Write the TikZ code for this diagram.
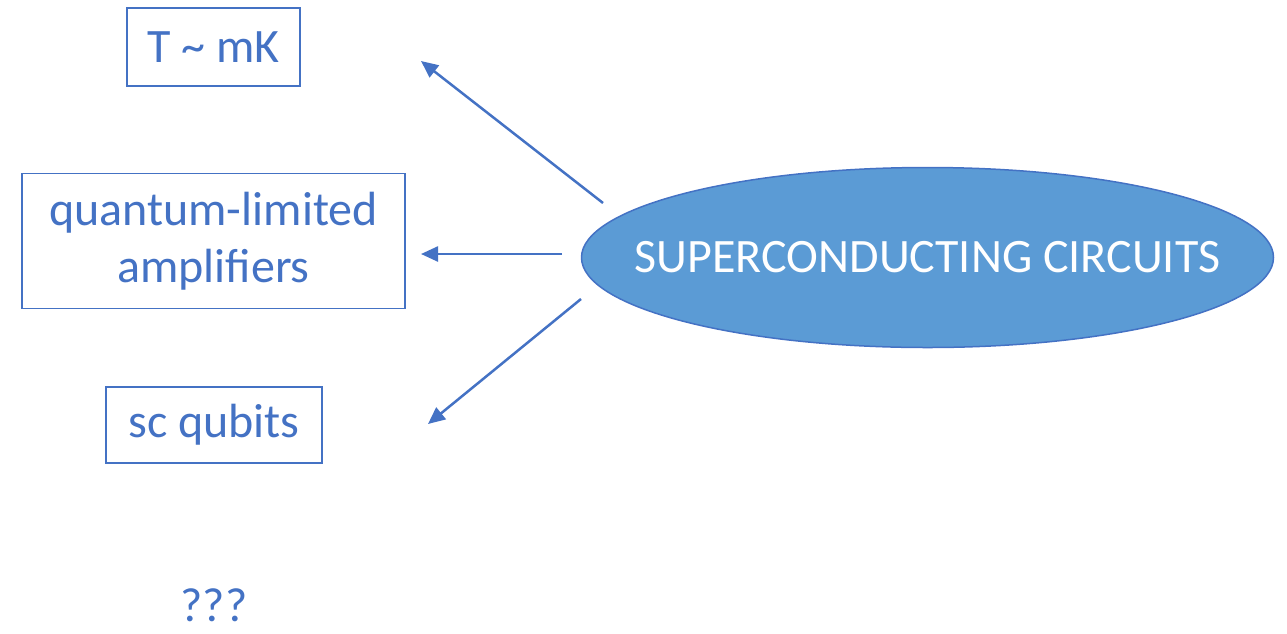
\documentclass[tikz,border=0pt]{standalone}
\usepackage{fontspec}
\setmainfont{Carlito}
\usetikzlibrary{arrows.meta,shapes.geometric}
\definecolor{acc}{HTML}{4472C4}
\definecolor{ellfill}{HTML}{5B9BD5}
\definecolor{ellline}{HTML}{4472C4}
\begin{document}
\begin{tikzpicture}[x=1pt,y=-1pt,
  lbl/.style={text=acc,font=\fontsize{48}{57}\selectfont},
  boxnode/.style={lbl,draw=acc,line width=1.8pt,inner sep=0pt,align=center},
  conn/.style={draw=acc,line width=2.5pt,-{Triangle[length=17pt,width=15pt]}}]
\useasboundingbox (0,0) rectangle (1287,633);
\node[boxnode,minimum width=173pt,minimum height=78pt] (tmk) at (213.5,47) {T \char`~{} mK};
\node[boxnode,minimum width=383pt,minimum height=135pt] (amp) at (213.5,241) {quantum-limited\\amplifiers};
\node[lbl,draw=none,anchor=base,inner sep=0pt,text depth=0pt] (qq) at (214,621) {???};
\node[boxnode,minimum width=216pt,minimum height=76pt] (qub) at (214,425) {sc qubits};
\node[ellipse,draw=ellline,line width=1.5pt,fill=ellfill,inner sep=0pt,minimum width=692pt,minimum height=180pt] (sc) at (927.5,257.5) {};
\node[text=white,font=\fontsize{48}{56}\selectfont,inner sep=0pt] (sctext) at (sc.center) {SUPERCONDUCTING CIRCUITS};
\coordinate (a1s) at (603,203);
\coordinate (a1e) at (421,61);
\coordinate (a2s) at (562,254);
\coordinate (a2e) at (421,254);
\coordinate (a3s) at (581,299);
\coordinate (a3e) at (428,424);
\draw[conn] (a1s) -- (a1e);
\draw[conn] (a2s) -- (a2e);
\draw[conn] (a3s) -- (a3e);
\end{tikzpicture}
\end{document}
